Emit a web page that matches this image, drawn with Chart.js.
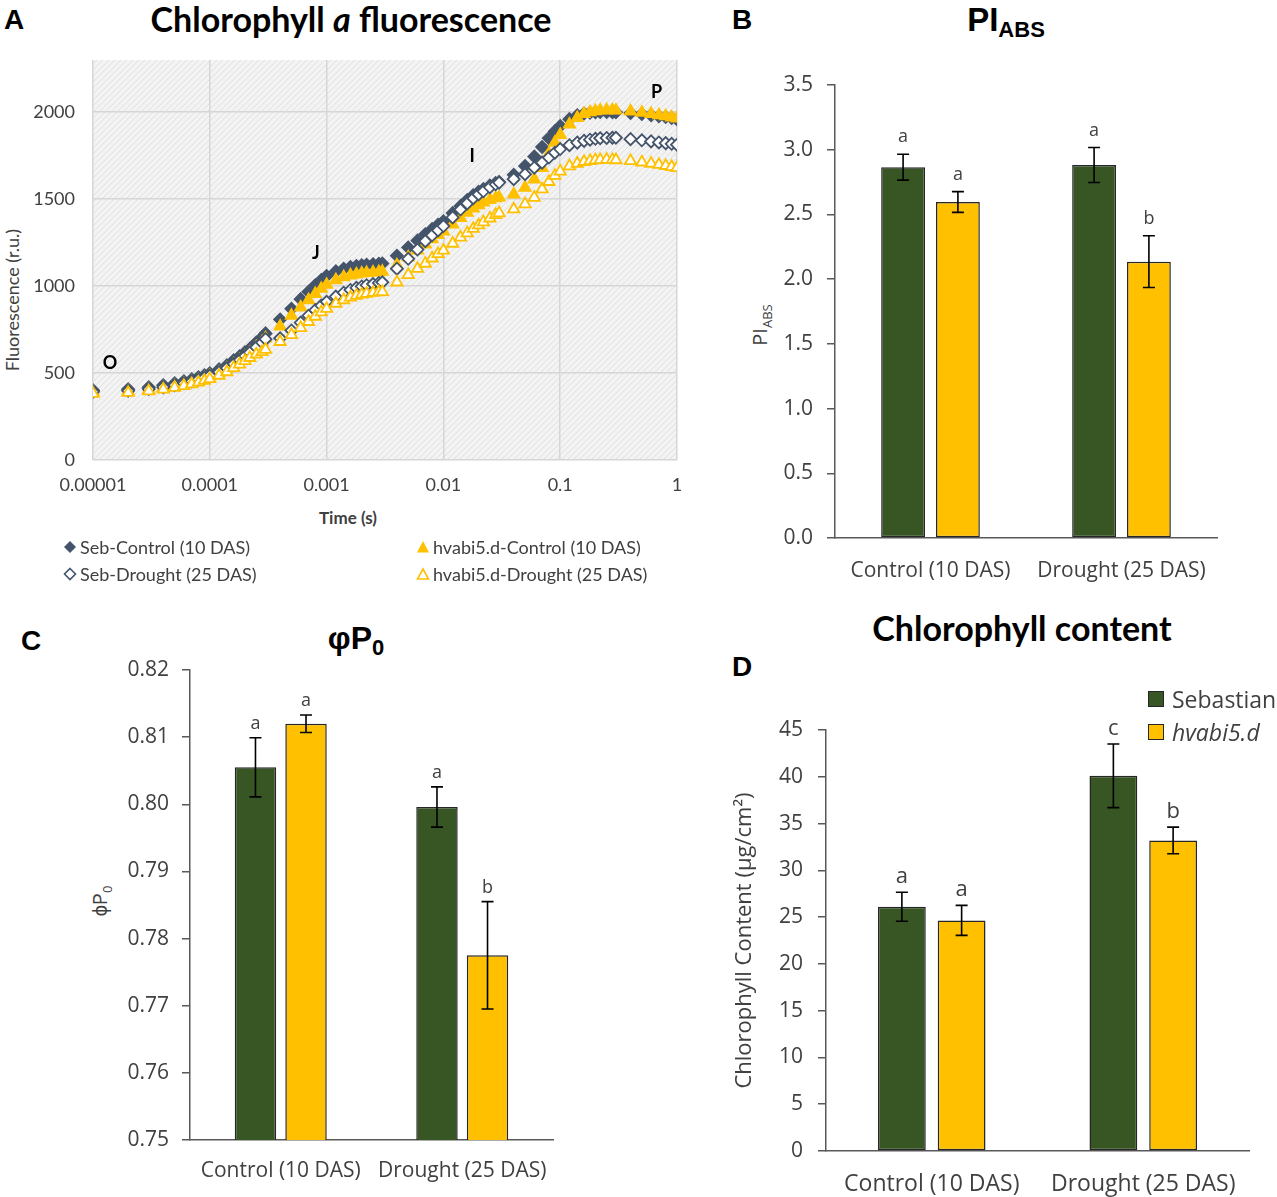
<!DOCTYPE html>
<html><head><meta charset="utf-8">
<script src="https://cdn.jsdelivr.net/npm/chart.js@4.4.1/dist/chart.umd.min.js"></script>
<style>
html,body{margin:0;padding:0;background:#fff;}
#page{position:relative;width:1277px;height:1197px;overflow:hidden;background:#fff;}
.t{position:absolute;white-space:nowrap;transform:translate(-50%,-50%);line-height:1;}
.r{position:absolute;white-space:nowrap;transform:translate(-50%,-50%) rotate(-90deg);line-height:1;}
.l{position:absolute;white-space:nowrap;transform:translate(0,-50%);line-height:1;}
.wrap{position:absolute;}
.letter{font:700 28px 'Liberation Sans',Arial,sans-serif;color:#000;}
.leg{font:18px Lato,sans-serif;color:#404040;display:flex;align-items:center;}
.leg svg{margin-right:3px;}
</style></head>
<body><div id="page">

<div class="t letter" style="left:14px;top:20px">A</div>
<div class="t letter" style="left:742px;top:20px">B</div>
<div class="t letter" style="left:31px;top:641px">C</div>
<div class="t letter" style="left:742px;top:667px">D</div>

<div class="t" style="left:351px;top:18px;font:700 34px Lato,sans-serif;color:#000">Chlorophyll <i>a</i> fluorescence</div>
<div class="t" style="left:1006px;top:20px;font:700 33px 'Liberation Sans',Arial,sans-serif;color:#000">PI<span style="font-size:22px;position:relative;top:6px">ABS</span></div>
<div class="t" style="left:356px;top:638px;font:700 32px 'Liberation Sans',Arial,sans-serif;color:#000">φP<span style="font-size:22px;position:relative;top:6px">0</span></div>
<div class="t" style="left:1022px;top:627px;font:700 34px Lato,sans-serif;color:#000">Chlorophyll content</div>

<div class="r" style="left:12px;top:300px;font:18px Lato,sans-serif;color:#404040">Fluorescence (r.u.)</div>
<div class="t" style="left:348px;top:517px;font:700 17px Lato,sans-serif;color:#404040">Time (s)</div>
<div class="r" style="left:759px;top:325px;font:20px 'Open Sans',sans-serif;color:#404040">PI<span style="font-size:13px;position:relative;top:5px">ABS</span></div>
<div class="r" style="left:99px;top:901px;font:20px 'Open Sans',sans-serif;color:#404040">ϕP<span style="font-size:13px;position:relative;top:5px">0</span></div>

<div class="wrap" style="left:0;top:31px"><canvas id="ca" width="700" height="509"></canvas></div>
<div class="wrap" style="left:735px;top:40px"><canvas id="cb" width="542" height="560"></canvas></div>
<div class="wrap" style="left:0;top:600px"><canvas id="cc" width="600" height="597"></canvas></div>
<div class="wrap" style="left:700px;top:600px"><canvas id="cd" width="577" height="597"></canvas></div>

<div class="l leg" style="left:63px;top:547px"><svg width="14" height="14"><polygon points="7,1 13,7 7,13 1,7" fill="#44546A"/></svg>Seb-Control (10 DAS)</div>
<div class="l leg" style="left:63px;top:574px"><svg width="14" height="14"><polygon points="7,1.5 12.5,7 7,12.5 1.5,7" fill="#fff" stroke="#44546A" stroke-width="1.6"/></svg>Seb-Drought (25 DAS)</div>
<div class="l leg" style="left:416px;top:547px"><svg width="14" height="14"><polygon points="7,1 13,12.5 1,12.5" fill="#FFC000"/></svg>hvabi5.d-Control (10 DAS)</div>
<div class="l leg" style="left:416px;top:574px"><svg width="14" height="14"><polygon points="7,2 12.5,12 1.5,12" fill="#fff" stroke="#FFC000" stroke-width="1.6"/></svg>hvabi5.d-Drought (25 DAS)</div>

<div class="l" style="left:1148px;top:699px;font:23px 'Open Sans',sans-serif;color:#404040;display:flex;align-items:center"><span style="display:inline-block;width:14px;height:14px;background:#375623;border:1px solid #262626;margin-right:8px"></span>Sebastian</div>
<div class="l" style="left:1148px;top:732px;font:italic 23px 'Open Sans',sans-serif;color:#404040;display:flex;align-items:center"><span style="display:inline-block;width:14px;height:14px;background:#FFC000;border:1px solid #262626;margin-right:8px"></span>hvabi5.d</div>

</div>
<script>
// ---------- Panel A data (OJIP transient) ----------
const timeS = [0.00001,0.00002,0.00003,0.00004,0.00005,0.00006,0.00007,0.00008,0.00009,0.0001,0.00012,0.00014,0.00016,0.00018,0.0002,0.00022,0.00025,0.00028,0.0003,
  0.0004,0.0005,0.0006,0.0007,0.0008,0.0009,0.001,0.0012,0.0014,0.0016,0.0018,0.002,0.0022,0.0025,0.0028,0.003,
  0.004,0.005,0.006,0.007,0.008,0.009,0.01,0.012,0.014,0.016,0.018,0.02,0.022,0.025,0.028,0.03,
  0.04,0.05,0.06,0.07,0.08,0.09,0.1,0.12,0.14,0.16,0.18,0.2,0.22,0.25,0.28,0.3,
  0.4,0.5,0.6,0.7,0.8,0.9,1.0];
const sebControl = [401,407,418,430,441,453,464,476,487,499,521,544,573,596,619,640,676,705,728,
  808,870,925,968,1005,1035,1058,1085,1100,1110,1116,1120,1123,1126,1128,1130,
  1175,1222,1262,1298,1328,1352,1372,1420,1460,1495,1522,1542,1558,1578,1592,1598,
  1640,1690,1745,1800,1850,1890,1920,1960,1982,1992,1997,2000,2001,2001,2000,2000,
  1995,1990,1983,1977,1972,1966,1960];
const hvControl = [390,395,405,416,427,438,449,460,471,482,503,525,550,573,595,616,650,678,700,
  768,830,878,920,955,985,1008,1035,1052,1062,1068,1073,1076,1079,1081,1083,
  1120,1165,1205,1240,1270,1295,1315,1355,1392,1422,1447,1466,1481,1496,1506,1510,
  1528,1566,1614,1680,1760,1825,1870,1930,1968,1990,2000,2006,2010,2012,2012,2010,
  2005,1998,1990,1983,1977,1970,1965];
const sebDrought = [392,398,408,419,430,441,452,463,474,485,506,528,552,575,598,618,648,675,695,
  700,745,790,830,862,888,910,940,962,978,990,998,1005,1012,1018,1022,
  1100,1157,1210,1258,1292,1320,1345,1395,1440,1475,1505,1527,1545,1568,1585,1595,
  1615,1643,1681,1710,1739,1767,1788,1810,1825,1835,1842,1847,1850,1852,1853,1853,
  1845,1838,1832,1826,1822,1818,1813];
const hvDrought = [382,387,396,406,416,426,436,446,456,466,486,506,530,550,570,588,608,622,635,
  680,720,760,795,825,850,870,900,920,935,945,952,957,962,965,967,
  1022,1065,1100,1130,1160,1185,1205,1245,1280,1305,1330,1350,1368,1390,1410,1420,
  1442,1471,1509,1557,1600,1635,1660,1690,1705,1715,1720,1724,1726,1727,1726,1725,
  1720,1712,1705,1698,1692,1686,1680];
const timeTicks = [0.00001,0.0001,0.001,0.01,0.1,1];
const timeTickLabels = ['0.00001','0.0001','0.001','0.01','0.1','1'];
const fluoTicks = [0,500,1000,1500,2000];
const phaseNames = ['O','J','I','P'];
const phaseTimes = [0.000014,0.00081,0.0176,0.67];
const phaseLevels = [556,1192,1748,2115];

// ---------- Bar panels data ----------
const groups = ['Control (10 DAS)','Drought (25 DAS)'];
const piSeb = [2.865,2.882], piSebErr = [0.10,0.135], piSebLetters = ['a','a'];
const piHv = [2.596,2.135], piHvErr = [0.08,0.20], piHvLetters = ['a','b'];
const phiSeb = [0.8055,0.7996], phiSebErr = [0.0044,0.0030], phiSebLetters = ['a','a'];
const phiHv = [0.8120,0.7775], phiHvErr = [0.0013,0.0080], phiHvLetters = ['a','b'];
const chlSeb = [26.1,40.1], chlSebErr = [1.55,3.4], chlSebLetters = ['a','c'];
const chlHv = [24.65,33.2], chlHvErr = [1.6,1.42], chlHvLetters = ['a','b'];

const GREEN = '#375623', YELLOW = '#FFC000', SLATE = '#44546A', TXT = '#404040';

// ---------- plugins ----------
const hatchPlugin = {
  id: 'hatch',
  beforeDraw(chart) {
    const {ctx, chartArea: a} = chart;
    const p = document.createElement('canvas'); p.width = 6; p.height = 6;
    const g = p.getContext('2d');
    g.fillStyle = '#f3f3f3'; g.fillRect(0, 0, 6, 6);
    g.strokeStyle = '#e0e0e0'; g.lineWidth = 1;
    g.beginPath(); g.moveTo(-1, 7); g.lineTo(7, -1); g.moveTo(-1, 1); g.lineTo(1, -1); g.moveTo(5, 7); g.lineTo(7, 5); g.stroke();
    ctx.save(); ctx.fillStyle = ctx.createPattern(p, 'repeat');
    ctx.fillRect(a.left, a.top, a.right - a.left, a.bottom - a.top); ctx.restore();
  }
};
const phasePlugin = {
  id: 'phases',
  afterDatasetsDraw(chart) {
    const {ctx, scales: {x, y}} = chart;
    ctx.save(); ctx.fillStyle = '#000'; ctx.font = 'bold 18px Lato'; ctx.textAlign = 'center'; ctx.textBaseline = 'middle';
    phaseNames.forEach((n, i) => ctx.fillText(n, x.getPixelForValue(phaseTimes[i]), y.getPixelForValue(phaseLevels[i])));
    ctx.restore();
  }
};
const errPlugin = {
  id: 'errbars',
  afterDatasetsDraw(chart, args, opts) {
    const ctx = chart.ctx, ys = chart.scales.y;
    chart.data.datasets.forEach((ds, i) => {
      const meta = chart.getDatasetMeta(i);
      meta.data.forEach((bar, j) => {
        const v = ds.data[j], e = ds.errors[j];
        const yt = ys.getPixelForValue(v + e), yb = ys.getPixelForValue(v - e), x = bar.x;
        ctx.save(); ctx.strokeStyle = '#000'; ctx.lineWidth = 1.6;
        ctx.beginPath();
        ctx.moveTo(x, yt); ctx.lineTo(x, yb);
        ctx.moveTo(x - 6, yt); ctx.lineTo(x + 6, yt);
        ctx.moveTo(x - 6, yb); ctx.lineTo(x + 6, yb);
        ctx.stroke();
        ctx.fillStyle = TXT; ctx.font = opts.font; ctx.textAlign = 'center'; ctx.textBaseline = 'alphabetic';
        ctx.fillText(ds.letters[j], x, yt - opts.gap);
        ctx.restore();
      });
    });
  }
};

// ---------- Panel A ----------
function pts(arr) { return timeS.map((t, i) => ({x: t, y: arr[i]})); }
function series(label, arr, style, fill, stroke, r, order) {
  return {label, data: pts(arr), pointStyle: style, backgroundColor: fill, borderColor: stroke,
    pointBackgroundColor: fill, pointBorderColor: stroke, pointBorderWidth: 1.8, pointRadius: r, showLine: false, order};
}
new Chart(document.getElementById('ca'), {
  type: 'scatter',
  data: {datasets: [
    series('Seb-Control (10 DAS)', sebControl, 'rectRot', SLATE, SLATE, 6, 4),
    series('hvabi5.d-Control (10 DAS)', hvControl, 'triangle', YELLOW, YELLOW, 6.5, 3),
    series('Seb-Drought (25 DAS)', sebDrought, 'rectRot', '#ffffff', SLATE, 6, 2),
    series('hvabi5.d-Drought (25 DAS)', hvDrought, 'triangle', '#ffffff', YELLOW, 6.5, 1)
  ]},
  options: {
    responsive: false, animation: false, events: [],
    layout: {autoPadding: false, padding: {top: 29, right: 23, left: 0, bottom: 0}},
    plugins: {legend: {display: false}, tooltip: {enabled: false}},
    scales: {
      x: {type: 'logarithmic', min: 0.00001, max: 1,
        afterBuildTicks: s => { s.ticks = timeTicks.map(v => ({value: v})); },
        afterFit: s => { s.height = 80; },
        ticks: {callback: (v, i) => timeTickLabels[i], padding: 14, color: TXT, font: {family: 'Lato', size: 18}, maxRotation: 0, autoSkip: false},
        grid: {color: '#d6d6d6', lineWidth: 1.5, drawTicks: false}, border: {display: false}
      },
      y: {min: 0, max: 2300,
        afterBuildTicks: s => { s.ticks = fluoTicks.map(v => ({value: v})); },
        afterFit: s => { s.width = 93; },
        ticks: {padding: 18, color: TXT, font: {family: 'Lato', size: 18}, callback: v => String(v)},
        grid: {color: '#d6d6d6', lineWidth: 1.5, drawTicks: false}, border: {display: false}
      }
    }
  },
  plugins: [hatchPlugin, phasePlugin]
});

// ---------- Bar panels ----------
function barChart(id, seb, sebErr, sebLet, hv, hvErr, hvLet, o) {
  return new Chart(document.getElementById(id), {
    type: 'bar',
    data: {labels: groups, datasets: [
      {label: 'Sebastian', data: seb, errors: sebErr, letters: sebLet, backgroundColor: GREEN, borderColor: '#262626', borderWidth: 1.5, borderSkipped: false,
        categoryPercentage: o.cat, barPercentage: o.bar},
      {label: 'hvabi5.d', data: hv, errors: hvErr, letters: hvLet, backgroundColor: YELLOW, borderColor: '#262626', borderWidth: 1.5, borderSkipped: false,
        categoryPercentage: o.cat, barPercentage: o.bar}
    ]},
    options: {
      responsive: false, animation: false, events: [],
      layout: {autoPadding: false, padding: {top: o.top, right: o.right, left: 0, bottom: 0}},
      plugins: {legend: {display: false}, tooltip: {enabled: false}, errbars: {font: o.letterFont, gap: o.gap}},
      scales: {
        x: {afterFit: s => { s.height = o.xh; },
          ticks: {color: TXT, font: {family: 'Open Sans', size: o.xfont}, padding: o.xpad, maxRotation: 0, autoSkip: false},
          grid: {display: true, drawOnChartArea: false, drawTicks: false},
          border: {display: true, color: '#595959', width: 1.5}},
        y: {min: o.min, max: o.max,
          afterFit: s => { s.width = o.yw; },
          ticks: {stepSize: o.step, color: TXT, font: {family: 'Open Sans', size: o.yfont}, padding: o.ypad, callback: v => v.toFixed(o.dec)},
          grid: {display: true, drawOnChartArea: false, drawTicks: true, tickLength: 8, color: '#595959', lineWidth: 1.5},
          border: {display: true, color: '#595959', width: 1.5},
          title: o.ytitle ? {display: true, text: o.ytitle, color: TXT, font: {family: 'Open Sans', size: 22}, padding: {top: o.ytpad, bottom: 0}} : {display: false}
        }
      }
    },
    plugins: [errPlugin]
  });
}
barChart('cb', piSeb, piSebErr, piSebLetters, piHv, piHvErr, piHvLetters,
  {cat: 0.574, bar: 0.80, top: 45, right: 60, xh: 62, yw: 100, min: 0, max: 3.5, step: 0.5, dec: 1,
   xfont: 21, yfont: 21, xpad: 20, ypad: 14, letterFont: '18px "Open Sans"', gap: 12});
barChart('cc', phiSeb, phiSebErr, phiSebLetters, phiHv, phiHvErr, phiHvLetters,
  {cat: 0.557, bar: 0.82, top: 70, right: 47, xh: 57, yw: 190, min: 0.75, max: 0.82, step: 0.01, dec: 2,
   xfont: 21, yfont: 21, xpad: 18, ypad: 13, letterFont: '18px "Open Sans"', gap: 8.5});
barChart('cd', chlSeb, chlSebErr, chlSebLetters, chlHv, chlHvErr, chlHvLetters,
  {cat: 0.565, bar: 0.80, top: 130, right: 28, xh: 46, yw: 126, min: 0, max: 45, step: 5, dec: 0,
   xfont: 23, yfont: 21, xpad: 20, ypad: 15, letterFont: '22px "Open Sans"', gap: 9,
   ytitle: 'Chlorophyll Content (µg/cm²)', ytpad: 32});
</script>
</body></html>
